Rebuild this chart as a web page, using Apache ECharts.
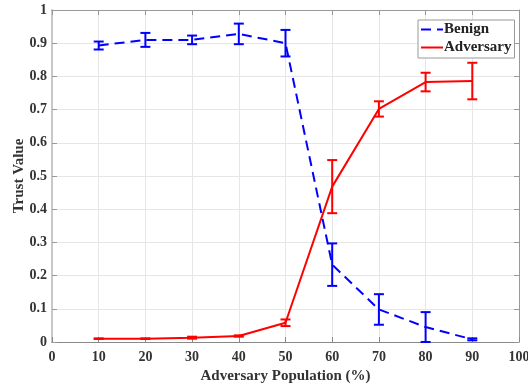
<!DOCTYPE html>
<html><head><meta charset="utf-8">
<script src="https://cdn.jsdelivr.net/npm/echarts@6/dist/echarts.min.js"></script>
<style>html,body{margin:0;padding:0;background:#fff}#c{width:528px;height:385px}</style>
</head><body><div id="c"></div>
<script>
const xValues = [10, 20, 30, 40, 50, 60, 70, 80, 90];
const benignMean = [0.893, 0.910, 0.910, 0.928, 0.900, 0.233, 0.098, 0.045, 0.008];
const benignErr  = [0.012, 0.021, 0.013, 0.031, 0.040, 0.064, 0.046, 0.045, 0.003];
const advMean = [0.010, 0.010, 0.013, 0.018, 0.058, 0.468, 0.702, 0.783, 0.786];
const advErr  = [0.001, 0.001, 0.003, 0.002, 0.010, 0.080, 0.023, 0.028, 0.055];
const xTicks = [0,10,20,30,40,50,60,70,80,90,100];
const yTicks = [0,0.1,0.2,0.3,0.4,0.5,0.6,0.7,0.8,0.9,1];
const yTitle = 'Trust Value';
const xTitle = 'Adversary Population (%)';

const FONT = 'Liberation Serif';
function errData(m, e){ return xValues.map((x,i)=>[x, m[i]-e[i], m[i]+e[i]]); }
function errSeries(name, m, e, color){
  return {
    type:'custom', name: name+'_err', data: errData(m,e), z:3, silent:true,
    renderItem: function(params, api){
      const x = api.value(0);
      const lo = api.coord([x, Math.max(api.value(1),0)]);
      const hi = api.coord([x, api.value(2)]);
      const w = 5;
      const st = {stroke: color, lineWidth: 2, fill:'none'};
      return {type:'group', children:[
        {type:'line', shape:{x1:lo[0],y1:lo[1],x2:hi[0],y2:hi[1]}, style:st},
        {type:'line', shape:{x1:lo[0]-w,y1:lo[1],x2:lo[0]+w,y2:lo[1]}, style:st},
        {type:'line', shape:{x1:hi[0]-w,y1:hi[1],x2:hi[0]+w,y2:hi[1]}, style:st}
      ]};
    },
    clip:false
  };
}
const chart = echarts.init(document.getElementById('c'));
const labelStyle = {fontFamily: FONT, fontWeight:'bold', fontSize: 14, color:'#333'};
chart.setOption({
  animation:false,
  grid:{left:52, right:9, top:10, bottom:43, containLabel:false, outerBoundsMode:'none'},
  graphic:[{
    type:'text', x:19, y:176, rotation:Math.PI/2,
    style:{text:yTitle, fill:'#333', font:'bold 15px "Liberation Serif"', textAlign:'center', textVerticalAlign:'middle'}
  }],
  legend:{
    data:['Benign','Adversary'], orient:'vertical', left:418, top:20,
    backgroundColor:'#fff', borderColor:'#999', borderWidth:1,
    padding:[2,3,3,2], itemGap:3, itemWidth:22, itemHeight:14,
    itemStyle:{opacity:0},
    textStyle:{fontFamily:FONT, fontWeight:'bold', fontSize:15, color:'#222', padding:[0,0,0,-4]}
  },
  xAxis:[{
    type:'value', min:0, max:100, interval:10,
    name:xTitle, nameLocation:'middle', nameGap:27,
    nameTextStyle:{fontFamily:FONT, fontWeight:'bold', fontSize:15, color:'#333'},
    axisLine:{show:true, lineStyle:{color:'#888', width:1}},
    axisTick:{show:true, inside:true, length:5, lineStyle:{color:'#888'}},
    axisLabel:Object.assign({margin:8}, labelStyle),
    splitLine:{show:true, lineStyle:{color:'#e6e6e6', width:1}}
  },{
    type:'value', min:0, max:100, interval:10, position:'top',
    axisLine:{show:true, onZero:false, lineStyle:{color:'#999', width:1}},
    axisTick:{show:true, inside:true, length:5, lineStyle:{color:'#999'}},
    axisLabel:{show:false}, splitLine:{show:false}
  }],
  yAxis:[{
    type:'value', min:0, max:1, interval:0.1,
    axisLine:{show:true, lineStyle:{color:'#c8c8c8', width:2}},
    axisTick:{show:true, inside:true, length:5, lineStyle:{color:'#999'}},
    axisLabel:Object.assign({margin:5, formatter: v => String(Math.round(v*10)/10)}, labelStyle),
    splitLine:{show:true, lineStyle:{color:'#e6e6e6', width:1}}
  },{
    type:'value', min:0, max:1, interval:0.1, position:'right',
    axisLine:{show:true, onZero:false, lineStyle:{color:'#999', width:1}},
    axisTick:{show:true, inside:true, length:5, lineStyle:{color:'#999'}},
    axisLabel:{show:false}, splitLine:{show:false}
  }],
  series:[
    {name:'Benign', type:'line', data: xValues.map((x,i)=>[x, benignMean[i]]), symbol:'none', z:4,
     lineStyle:{color:'#0000ff', width:2, type:[10,6]}, itemStyle:{color:'#0000ff'}},
    {name:'Adversary', type:'line', data: xValues.map((x,i)=>[x, advMean[i]]), symbol:'none', z:4,
     lineStyle:{color:'#ff0000', width:2}, itemStyle:{color:'#ff0000'}},
    errSeries('Benign', benignMean, benignErr, '#0000ff'),
    errSeries('Adversary', advMean, advErr, '#ff0000')
  ]
});
</script></body></html>
